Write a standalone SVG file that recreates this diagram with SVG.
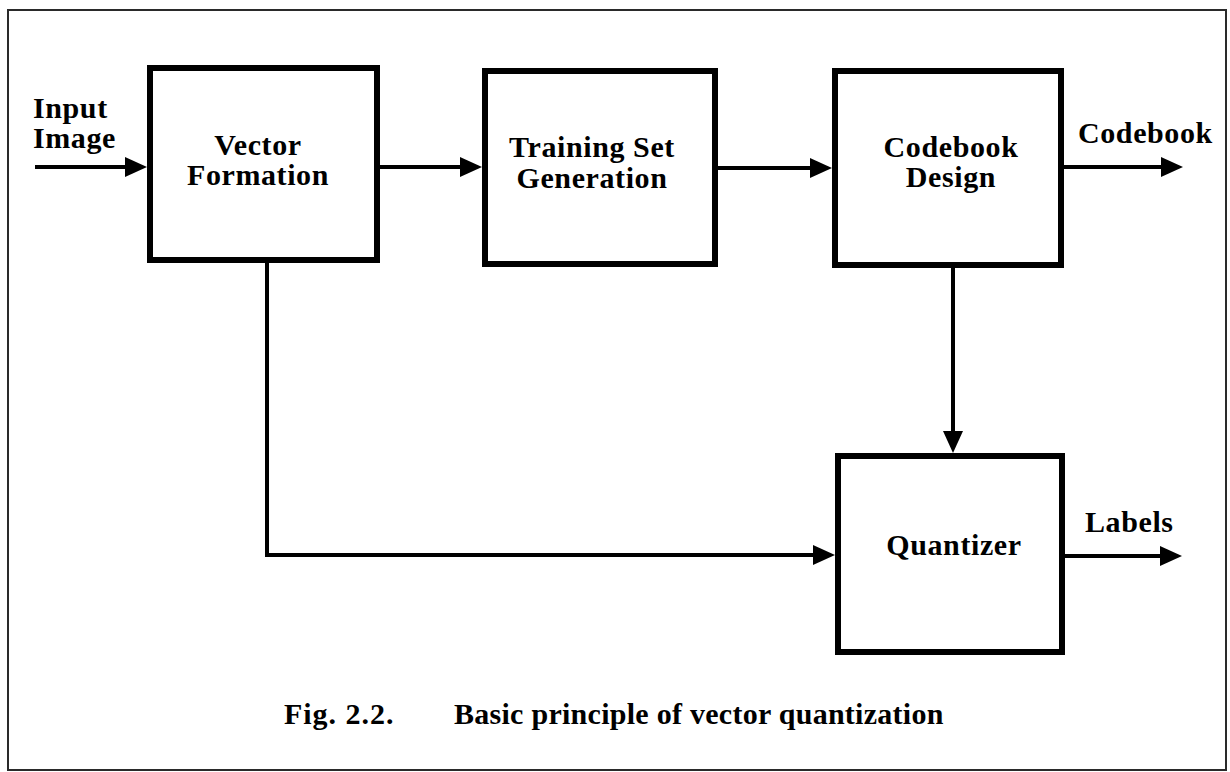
<svg xmlns="http://www.w3.org/2000/svg" width="1230" height="772" viewBox="0 0 1230 772">
  <style>
    .frame { fill: none; stroke: #2a2a2a; stroke-width: 2; }
    .box { fill: #ffffff; stroke: #000000; stroke-width: 6; }
    .wire { fill: none; stroke: #000000; stroke-width: 4; }
    .label { font-family: "Liberation Serif", "Times New Roman", serif; font-weight: bold; font-size: 30px; letter-spacing: 0.6px; fill: #000000; }
    .mid { text-anchor: middle; }
  </style>
  <defs>
    <marker id="arrow" markerUnits="userSpaceOnUse" viewBox="0 0 22 20" markerWidth="22" markerHeight="20" refX="14" refY="10" orient="auto">
      <path d="M0,0 L22,10 L0,20 z" fill="#000000"/>
    </marker>
  </defs>

  <rect width="1230" height="772" fill="#ffffff"/>
  <!-- outer figure frame -->
  <rect class="frame" x="8" y="10" width="1218" height="760"/>

  <!-- connectors -->
  <g id="connectors">
    <line class="wire" x1="35" y1="167" x2="139" y2="167" marker-end="url(#arrow)"/>
    <line class="wire" x1="380" y1="167" x2="474" y2="167" marker-end="url(#arrow)"/>
    <line class="wire" x1="718" y1="168" x2="824" y2="168" marker-end="url(#arrow)"/>
    <line class="wire" x1="1064" y1="167" x2="1175" y2="167" marker-end="url(#arrow)"/>
    <line class="wire" x1="953" y1="268" x2="953" y2="445" marker-end="url(#arrow)"/>
    <path class="wire" d="M267,263 V555 H827" marker-end="url(#arrow)"/>
    <line class="wire" x1="1065" y1="556" x2="1174" y2="556" marker-end="url(#arrow)"/>
  </g>

  <!-- free labels on the input and outputs -->
  <g id="input-label">
    <text class="label" x="33" y="118">Input</text>
    <text class="label" x="33" y="148">Image</text>
  </g>
  <g id="codebook-label">
    <text class="label" x="1078" y="143">Codebook</text>
  </g>
  <g id="labels-label">
    <text class="label" x="1085" y="532">Labels</text>
  </g>

  <!-- processing blocks -->
  <g id="vector-formation">
    <rect class="box" x="150" y="68" width="227" height="192"/>
    <text class="label mid" x="258" y="155">Vector</text>
    <text class="label mid" x="258" y="185">Formation</text>
  </g>
  <g id="training-set-generation">
    <rect class="box" x="485" y="71" width="230" height="193"/>
    <text class="label mid" x="592" y="157">Training Set</text>
    <text class="label mid" x="592" y="188">Generation</text>
  </g>
  <g id="codebook-design">
    <rect class="box" x="835" y="71" width="226" height="194"/>
    <text class="label mid" x="951" y="157">Codebook</text>
    <text class="label mid" x="951" y="187">Design</text>
  </g>
  <g id="quantizer">
    <rect class="box" x="838" y="456" width="224" height="196"/>
    <text class="label mid" x="954" y="555">Quantizer</text>
  </g>

  <!-- caption -->
  <g id="caption">
    <text class="label" x="284" y="724" textLength="110" lengthAdjust="spacing">Fig. 2.2.</text>
    <text class="label" x="454" y="724" textLength="490" lengthAdjust="spacing">Basic principle of vector quantization</text>
  </g>
</svg>
